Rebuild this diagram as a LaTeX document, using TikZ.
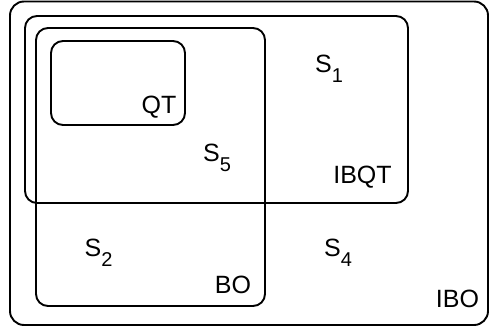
\documentclass[tikz,border=0pt]{standalone}
\usepackage{fontspec}
\setmainfont{Liberation Sans}
\newcommand{\lowsub}[1]{\raisebox{-10pt}{\fontsize{20}{22}\selectfont #1}}
\begin{document}
\begin{tikzpicture}[x=1pt,y=-1pt,
  setbox/.style={draw=black,line width=1.9pt,rounded corners=12pt},
  lbl/.style={anchor=base,inner sep=0pt,font=\fontsize{25}{29}\selectfont}]
\useasboundingbox (0,0) rectangle (489,329);
\draw[setbox,rounded corners=14pt] (10,1.5) rectangle (488,325);
\draw[setbox] (25,16) rectangle (408,203);
\draw[setbox] (36,28) rectangle (265,306);
\draw[setbox] (51,41) rectangle (185,125);
\node[lbl] (s1) at (329,72) {S\lowsub{1}};
\node[lbl] (s5) at (217,161) {S\lowsub{5}};
\node[lbl] (s2) at (98.5,256) {S\lowsub{2}};
\node[lbl] (s4) at (338,256) {S\lowsub{4}};
\node[lbl] (ibqt) at (362.5,183) {IBQT};
\node[lbl] (qt) at (159,113) {QT};
\node[lbl] (bo) at (233,293) {BO};
\node[lbl] (ibo) at (457.5,307) {IBO};
\end{tikzpicture}
\end{document}
